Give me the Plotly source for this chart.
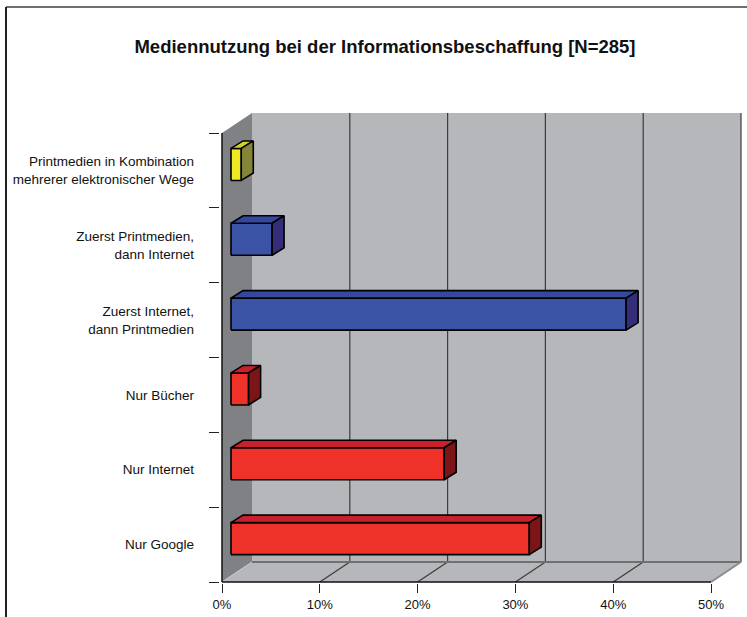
import plotly.graph_objects as go

# ---- data ----
categories = [
    "Nur Google",
    "Nur Internet",
    "Nur Bücher",
    "Zuerst Internet,<br>dann Printmedien",
    "Zuerst Printmedien,<br>dann Internet",
    "Printmedien in Kombination<br>mehrerer elektronischer Wege",
]
values = [30.5, 21.8, 1.8, 40.4, 4.2, 1.05]
front_colors = ["#EE3129", "#EE3129", "#EE3129", "#3A53A4", "#3A53A4", "#EEE825"]
top_colors = ["#C9202B", "#C9202B", "#C9202B", "#3548A0", "#3548A0", "#D4D02E"]
side_colors = ["#7B1517", "#7B1517", "#7B1517", "#332D7A", "#332D7A", "#85853A"]
x_ticks = [0, 10, 20, 30, 40, 50]
x_ticktext = ["0%", "10%", "20%", "30%", "40%", "50%"]
title = "Mediennutzung bei der Informationsbeschaffung [N=285]"

# ---- geometry (axis units) ----
W, H = 747, 617
SX = 9.78      # px per percent
SY = 74.83     # px per category
DX = 30 / SX   # chart depth in x
DY = 20 / SY   # chart depth in y
BX0 = 9 / SX   # bar front-plane offset
BY0 = 6 / SY
BDX = 12 / SX  # bar depth
BDY = 7.5 / SY
BH = 16 / SY   # half height of bar front face

n = len(categories)
ybot, ytop = -0.5, n - 0.5
xmax = x_ticks[-1]

L_PX, R_PX, T_PX, B_PX = 220, 745, 111, 583
x_range = [-(222 - L_PX) / SX, (R_PX - 222) / SX]
y_range = [ybot - (B_PX - 582) / SY, ybot + (582 - T_PX) / SY]

fig = go.Figure()

def poly(xs, ys, fill, line_color=None, width=0):
    fig.add_trace(go.Scatter(
        x=xs + [xs[0]], y=ys + [ys[0]], mode="lines", fill="toself",
        fillcolor=fill,
        line=dict(color=line_color or fill, width=width),
        hoverinfo="skip", showlegend=False))

def line(xs, ys, color, width):
    fig.add_trace(go.Scatter(x=xs, y=ys, mode="lines",
                             line=dict(color=color, width=width),
                             hoverinfo="skip", showlegend=False))

WALL = "#B6B7BB"
SIDEWALL = "#808185"
# back wall
poly([DX, xmax + DX, xmax + DX, DX], [ybot + DY, ybot + DY, ytop + DY, ytop + DY], WALL)
# left wall
poly([0, DX, DX, 0], [ybot, ybot + DY, ytop + DY, ytop], SIDEWALL)
# floor
poly([0, xmax, xmax + DX, DX], [ybot, ybot, ybot + DY, ybot + DY], WALL)

# gridlines on back wall and floor
for t in x_ticks[1:]:
    line([t + DX, t + DX], [ybot + DY, ytop + DY], "#3C3C3C", 1.2)
for t in x_ticks[1:-1]:
    line([t, t + DX], [ybot, ybot + DY], "#3C3C3C", 1.2)
# floor back edge and right edge
line([DX, xmax + DX], [ybot + DY, ybot + DY], "#6F7074", 2)
line([xmax, xmax + DX], [ybot, ybot + DY], "#8A8B8F", 2)
line([0, DX], [ybot, ybot + DY], "#C8C9CC", 1)

# bars
for i, v in enumerate(values):
    x0 = BX0
    x1 = BX0 + v
    y0 = i - BH + BY0
    y1 = i + BH + BY0
    # front face
    poly([x0, x1, x1, x0], [y0, y0, y1, y1], front_colors[i], "black", 1.6)
    # top face
    poly([x0, x1, x1 + BDX, x0 + BDX], [y1, y1, y1 + BDY, y1 + BDY], top_colors[i], "black", 1.6)
    # side face
    poly([x1, x1 + BDX, x1 + BDX, x1], [y0, y0 + BDY, y1 + BDY, y1], side_colors[i], "black", 1.6)

# axis lines (front plane)
line([0, 0], [ybot, ytop], "#111111", 1.5)
line([0, xmax], [ybot, ybot], "#111111", 1.5)

# outer frame of chart area
fig.add_shape(type="line", xref="paper", yref="paper",
              x0=(6 - L_PX) / (R_PX - L_PX), x1=(W - L_PX) / (R_PX - L_PX),
              y0=(B_PX - 7) / (B_PX - T_PX), y1=(B_PX - 7) / (B_PX - T_PX),
              line=dict(color="#6E6E6E", width=2))
fig.add_shape(type="line", xref="paper", yref="paper",
              x0=(6 - L_PX) / (R_PX - L_PX), x1=(6 - L_PX) / (R_PX - L_PX),
              y0=(B_PX - 7) / (B_PX - T_PX), y1=(B_PX - H) / (B_PX - T_PX),
              line=dict(color="#222222", width=2))

FONT = "Liberation Sans, Arial, sans-serif"

fig.update_layout(
    width=W, height=H,
    margin=dict(l=L_PX, r=W - R_PX, t=T_PX, b=H - B_PX),
    paper_bgcolor="white", plot_bgcolor="white",
    font=dict(family=FONT, size=13, color="#111111"),
    title=dict(text="<b>" + title + "</b>", x=385 / W, xref="container", xanchor="center",
               y=1 - 47 / H, yref="container", yanchor="middle",
               font=dict(family=FONT, size=18.5, color="#111111")),
    xaxis=dict(range=x_range, tickvals=x_ticks, ticktext=x_ticktext,
               ticks="outside", ticklen=9, tickcolor="#222222", tickwidth=1,
               showgrid=False, zeroline=False, showline=False,
               tickfont=dict(size=13)),
    yaxis=dict(range=y_range, tickvals=list(range(n)), ticktext=categories,
               ticks="", showgrid=False, zeroline=False, showline=False,
               ticklabelstandoff=25, tickfont=dict(size=13.5)),
    yaxis2=dict(range=y_range, overlaying="y", side="left",
                tickvals=[k - 0.5 for k in range(n + 1)], ticks="outside", ticklen=10,
                tickcolor="#222222", showticklabels=False, showgrid=False,
                zeroline=False, showline=False),
    showlegend=False,
)
# dummy trace to activate yaxis2
fig.add_trace(go.Scatter(x=[None], y=[None], yaxis="y2", showlegend=False, hoverinfo="skip"))

fig.write_html("out.html")
